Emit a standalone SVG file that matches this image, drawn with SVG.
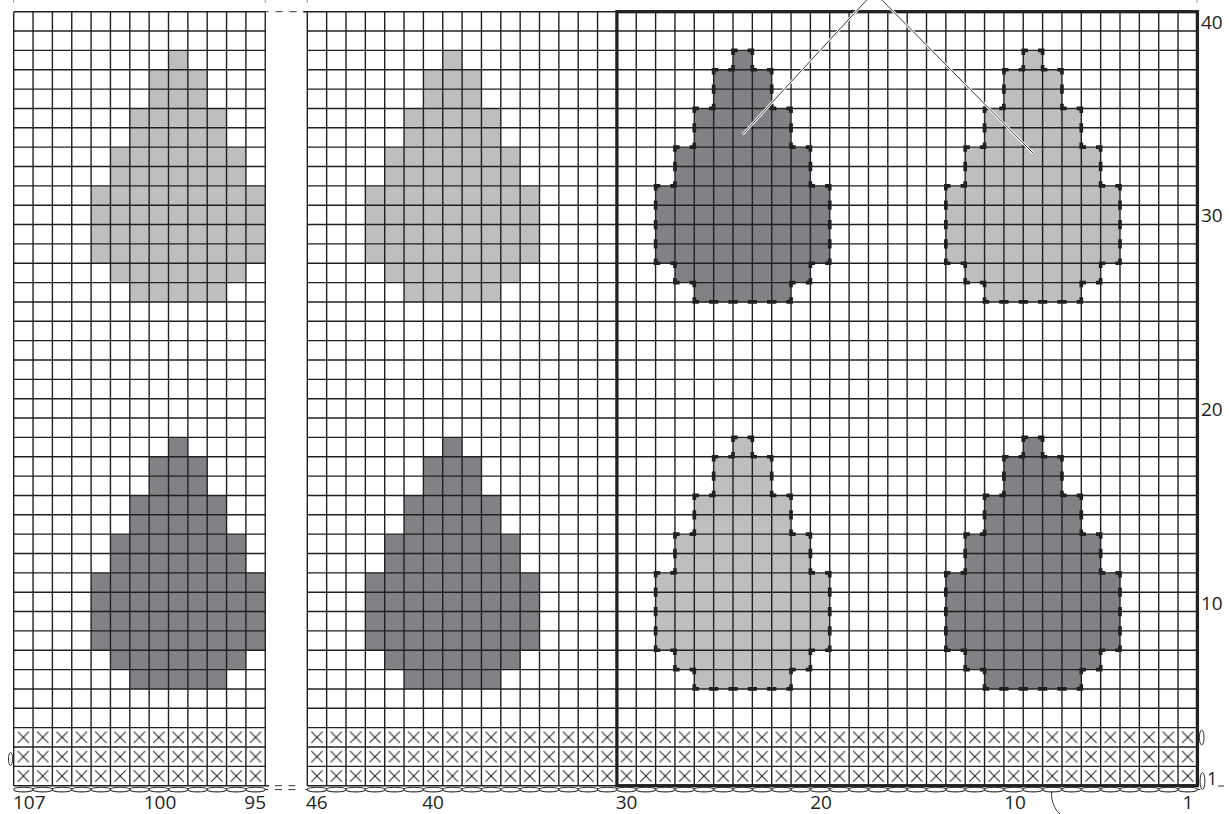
<svg xmlns="http://www.w3.org/2000/svg" xmlns:xlink="http://www.w3.org/1999/xlink" width="1229" height="814" viewBox="0 0 1229 814">
<style>
.bg{fill:#ffffff}
.lt{fill:#bcbec0}
.dk{fill:#808285}
.grid{fill:none;stroke:#231f20;stroke-width:0.072}
.dash{fill:none;stroke:#231f20;stroke-width:0.19;stroke-dasharray:0.48 0.52;stroke-dashoffset:0.74;stroke-linejoin:miter}
.chain{fill:none;stroke:#333333;stroke-width:0.055}
.frame{fill:none;stroke:#231f20;stroke-width:0.17}
.lab{font-family:"Open Sans","Noto Sans","Liberation Sans",sans-serif;font-size:19px;fill:#231f20}
.thin{fill:none;stroke:#333333;stroke-width:1}
.tick{fill:none;stroke:#999999;stroke-width:1}
.halo{fill:none;stroke:#ffffff;stroke-width:2.6}
.lead{fill:none;stroke:#3a3a3a;stroke-width:1}
</style>
<defs>
<path id="drop" d="M4.5 0H5V1H6V3H7V5H8V7H9V11H8V12H7V13H2V12H1V11H0V7H1V5H2V3H3V1H4V0Z"/>
<pattern id="xp" patternUnits="userSpaceOnUse" width="1" height="1">
<path d="M.21 .21L.79 .79M.79 .21L.21 .79" fill="none" stroke="#2b2b2b" stroke-width="0.058"/>
</pattern>
</defs>
<rect class="bg" x="0" y="0" width="1229" height="814"/>

<g id="left-panel" transform="translate(13.7,11.7) scale(19.35)">
<g id="left-drop-top"><use xlink:href="#drop" href="#drop" x="4" y="2" class="lt"/></g>
<g id="left-drop-bottom"><use xlink:href="#drop" href="#drop" x="4" y="22" class="dk"/></g>
<rect x="0" y="37" width="13" height="3" fill="url(#xp)"/>
<path class="grid" d="M0 0V40M1 0V40M2 0V40M3 0V40M4 0V40M5 0V40M6 0V40M7 0V40M8 0V40M9 0V40M10 0V40M11 0V40M12 0V40M13 0V40"/>
<path class="grid" d="M0 0H13M0 1H13M0 2H13M0 3H13M0 4H13M0 5H13M0 6H13M0 7H13M0 8H13M0 9H13M0 10H13M0 11H13M0 12H13M0 13H13M0 14H13M0 15H13M0 16H13M0 17H13M0 18H13M0 19H13M0 20H13M0 21H13M0 22H13M0 23H13M0 24H13M0 25H13M0 26H13M0 27H13M0 28H13M0 29H13M0 30H13M0 31H13M0 32H13M0 33H13M0 34H13M0 35H13M0 36H13M0 37H13M0 38H13M0 39H13M0 40H13.2"/>
<path class="chain" d="M0 40.2a.5 .12 0 0 0 1 0a.5 .12 0 0 0-1 0m1 0a.5 .12 0 0 0 1 0a.5 .12 0 0 0-1 0m1 0a.5 .12 0 0 0 1 0a.5 .12 0 0 0-1 0m1 0a.5 .12 0 0 0 1 0a.5 .12 0 0 0-1 0m1 0a.5 .12 0 0 0 1 0a.5 .12 0 0 0-1 0m1 0a.5 .12 0 0 0 1 0a.5 .12 0 0 0-1 0m1 0a.5 .12 0 0 0 1 0a.5 .12 0 0 0-1 0m1 0a.5 .12 0 0 0 1 0a.5 .12 0 0 0-1 0m1 0a.5 .12 0 0 0 1 0a.5 .12 0 0 0-1 0m1 0a.5 .12 0 0 0 1 0a.5 .12 0 0 0-1 0m1 0a.5 .12 0 0 0 1 0a.5 .12 0 0 0-1 0m1 0a.5 .12 0 0 0 1 0a.5 .12 0 0 0-1 0m1 0a.5 .12 0 0 0 1 0a.5 .12 0 0 0-1 0m1 0h.15"/>
</g>

<g id="right-panel" transform="translate(307.3,11.7) scale(19.35)">
<g id="drop-43-top"><use xlink:href="#drop" href="#drop" x="3" y="2" class="lt"/></g>
<g id="drop-43-bottom"><use xlink:href="#drop" href="#drop" x="3" y="22" class="dk"/></g>
<g id="drop-28-top"><use xlink:href="#drop" href="#drop" x="18" y="2" class="dk"/></g>
<g id="drop-28-bottom"><use xlink:href="#drop" href="#drop" x="18" y="22" class="lt"/></g>
<g id="drop-13-top"><use xlink:href="#drop" href="#drop" x="33" y="2" class="lt"/></g>
<g id="drop-13-bottom"><use xlink:href="#drop" href="#drop" x="33" y="22" class="dk"/></g>
<rect x="0" y="37" width="46" height="3" fill="url(#xp)"/>
<path class="grid" d="M0 0V40M1 0V40M2 0V40M3 0V40M4 0V40M5 0V40M6 0V40M7 0V40M8 0V40M9 0V40M10 0V40M11 0V40M12 0V40M13 0V40M14 0V40M15 0V40M16 0V40M17 0V40M18 0V40M19 0V40M20 0V40M21 0V40M22 0V40M23 0V40M24 0V40M25 0V40M26 0V40M27 0V40M28 0V40M29 0V40M30 0V40M31 0V40M32 0V40M33 0V40M34 0V40M35 0V40M36 0V40M37 0V40M38 0V40M39 0V40M40 0V40M41 0V40M42 0V40M43 0V40M44 0V40M45 0V40M46 0V40"/>
<path class="grid" d="M-0.2 0H46M0 1H46M0 2H46M0 3H46M0 4H46M0 5H46M0 6H46M0 7H46M0 8H46M0 9H46M0 10H46M0 11H46M0 12H46M0 13H46M0 14H46M0 15H46M0 16H46M0 17H46M0 18H46M0 19H46M0 20H46M0 21H46M0 22H46M0 23H46M0 24H46M0 25H46M0 26H46M0 27H46M0 28H46M0 29H46M0 30H46M0 31H46M0 32H46M0 33H46M0 34H46M0 35H46M0 36H46M0 37H46M0 38H46M0 39H46M0 40H46"/>
<g id="outline-28-top"><use xlink:href="#drop" href="#drop" x="18" y="2" class="dash"/></g>
<g id="outline-28-bottom"><use xlink:href="#drop" href="#drop" x="18" y="22" class="dash"/></g>
<g id="outline-13-top"><use xlink:href="#drop" href="#drop" x="33" y="2" class="dash"/></g>
<g id="outline-13-bottom"><use xlink:href="#drop" href="#drop" x="33" y="22" class="dash"/></g>
<rect class="frame" x="16" y="0" width="30" height="40"/>
<path class="chain" d="M-0.1 40.2h.1a.5 .12 0 0 0 1 0a.5 .12 0 0 0-1 0m1 0a.5 .12 0 0 0 1 0a.5 .12 0 0 0-1 0m1 0a.5 .12 0 0 0 1 0a.5 .12 0 0 0-1 0m1 0a.5 .12 0 0 0 1 0a.5 .12 0 0 0-1 0m1 0a.5 .12 0 0 0 1 0a.5 .12 0 0 0-1 0m1 0a.5 .12 0 0 0 1 0a.5 .12 0 0 0-1 0m1 0a.5 .12 0 0 0 1 0a.5 .12 0 0 0-1 0m1 0a.5 .12 0 0 0 1 0a.5 .12 0 0 0-1 0m1 0a.5 .12 0 0 0 1 0a.5 .12 0 0 0-1 0m1 0a.5 .12 0 0 0 1 0a.5 .12 0 0 0-1 0m1 0a.5 .12 0 0 0 1 0a.5 .12 0 0 0-1 0m1 0a.5 .12 0 0 0 1 0a.5 .12 0 0 0-1 0m1 0a.5 .12 0 0 0 1 0a.5 .12 0 0 0-1 0m1 0a.5 .12 0 0 0 1 0a.5 .12 0 0 0-1 0m1 0a.5 .12 0 0 0 1 0a.5 .12 0 0 0-1 0m1 0a.5 .12 0 0 0 1 0a.5 .12 0 0 0-1 0m1 0a.5 .12 0 0 0 1 0a.5 .12 0 0 0-1 0m1 0a.5 .12 0 0 0 1 0a.5 .12 0 0 0-1 0m1 0a.5 .12 0 0 0 1 0a.5 .12 0 0 0-1 0m1 0a.5 .12 0 0 0 1 0a.5 .12 0 0 0-1 0m1 0a.5 .12 0 0 0 1 0a.5 .12 0 0 0-1 0m1 0a.5 .12 0 0 0 1 0a.5 .12 0 0 0-1 0m1 0a.5 .12 0 0 0 1 0a.5 .12 0 0 0-1 0m1 0a.5 .12 0 0 0 1 0a.5 .12 0 0 0-1 0m1 0a.5 .12 0 0 0 1 0a.5 .12 0 0 0-1 0m1 0a.5 .12 0 0 0 1 0a.5 .12 0 0 0-1 0m1 0a.5 .12 0 0 0 1 0a.5 .12 0 0 0-1 0m1 0a.5 .12 0 0 0 1 0a.5 .12 0 0 0-1 0m1 0a.5 .12 0 0 0 1 0a.5 .12 0 0 0-1 0m1 0a.5 .12 0 0 0 1 0a.5 .12 0 0 0-1 0m1 0a.5 .12 0 0 0 1 0a.5 .12 0 0 0-1 0m1 0a.5 .12 0 0 0 1 0a.5 .12 0 0 0-1 0m1 0a.5 .12 0 0 0 1 0a.5 .12 0 0 0-1 0m1 0a.5 .12 0 0 0 1 0a.5 .12 0 0 0-1 0m1 0a.5 .12 0 0 0 1 0a.5 .12 0 0 0-1 0m1 0a.5 .12 0 0 0 1 0a.5 .12 0 0 0-1 0m1 0a.5 .12 0 0 0 1 0a.5 .12 0 0 0-1 0m1 0a.5 .12 0 0 0 1 0a.5 .12 0 0 0-1 0m1 0a.5 .12 0 0 0 1 0a.5 .12 0 0 0-1 0m1 0a.5 .12 0 0 0 1 0a.5 .12 0 0 0-1 0m1 0a.5 .12 0 0 0 1 0a.5 .12 0 0 0-1 0m1 0a.5 .12 0 0 0 1 0a.5 .12 0 0 0-1 0m1 0a.5 .12 0 0 0 1 0a.5 .12 0 0 0-1 0m1 0a.5 .12 0 0 0 1 0a.5 .12 0 0 0-1 0m1 0a.5 .12 0 0 0 1 0a.5 .12 0 0 0-1 0m1 0a.5 .12 0 0 0 1 0a.5 .12 0 0 0-1 0m1 0h.15"/>
</g>

<g id="connectors">
<ellipse class="thin" cx="10.6" cy="759" rx="2.1" ry="6.5"/>
<ellipse class="thin" cx="1201.7" cy="737.5" rx="2.3" ry="7.5"/>
<ellipse class="thin" cx="1202.5" cy="781" rx="2.4" ry="8.5"/>
<path class="thin" d="M1218 786H1224"/>
<path class="thin" d="M265.2 11.7H268.5M275.5 11.7H282.5M289.5 11.7H296.5M303 11.7H307.3"/>
<path class="thin" d="M275 785.7H282M288.3 785.7H295.3M275 789.6H282M288.3 789.6H295.3"/>
<path class="tick" d="M13.7 0V3M265.2 0V3M307.3 0V3M1197 0V3"/>
<path class="halo" d="M742.7 134.3L874 -8L1033.3 153.3"/>
<path class="lead" d="M742.7 134.3L874 -8L1033.3 153.3"/>
<path class="lead" d="M1051.5 792C1051.5 802 1054.5 809 1060 814"/>
</g>

<g id="labels">
<text class="lab" x="13" y="808.5">107</text>
<text class="lab" x="160" y="808.5" text-anchor="middle">100</text>
<text class="lab" x="266" y="808.5" text-anchor="end">95</text>
<text class="lab" x="306" y="808.5">46</text>
<text class="lab" x="433" y="808.5" text-anchor="middle">40</text>
<text class="lab" x="626.5" y="808.5" text-anchor="middle">30</text>
<text class="lab" x="821" y="808.5" text-anchor="middle">20</text>
<text class="lab" x="1015" y="808.5" text-anchor="middle">10</text>
<text class="lab" x="1188" y="808.5" text-anchor="middle">1</text>
<text class="lab" x="1201" y="29">40</text>
<text class="lab" x="1201" y="222">30</text>
<text class="lab" x="1201" y="416">20</text>
<text class="lab" x="1201" y="609.5">10</text>
<text class="lab" x="1207" y="785" style="font-size:18px">1</text>
</g>
</svg>
